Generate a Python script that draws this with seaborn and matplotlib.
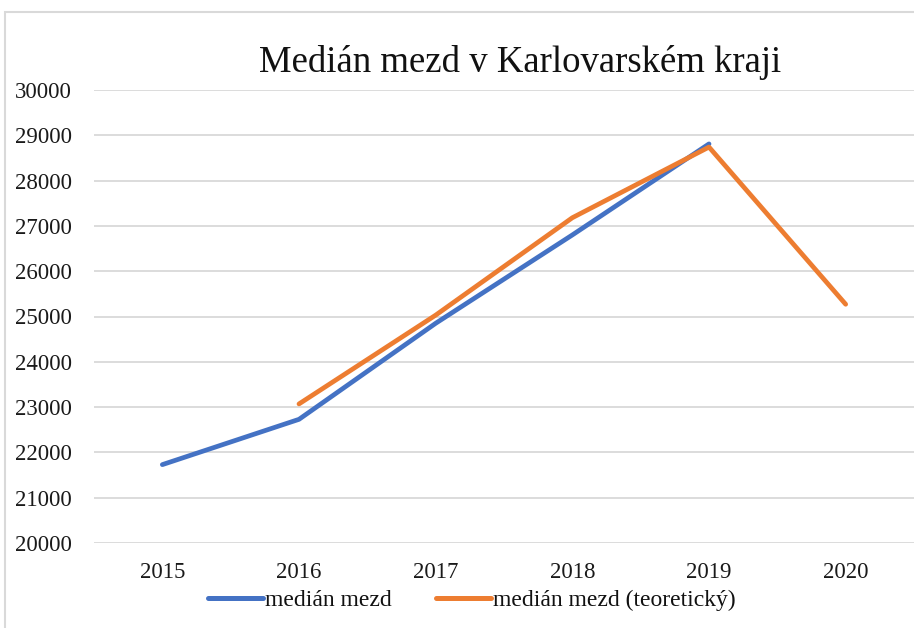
import numpy as np
import pandas as pd
import matplotlib
matplotlib.use("Agg")
import matplotlib.pyplot as plt
import seaborn as sns
from matplotlib.patches import Rectangle
from matplotlib.lines import Line2D

years = ["2015", "2016", "2017", "2018", "2019", "2020"]
median = [21730, 22730, 24850, 26800, 28810, np.nan]
median_theor = [np.nan, 23070, 25030, 27180, 28740, 25270]
series_names = ["medián mezd", "medián mezd (teoretický)"]
colors = ["#4472C4", "#ED7D31"]
title = "Medián mezd v Karlovarském kraji"

df = pd.DataFrame({
    "rok": years * 2,
    "hodnota": median + median_theor,
    "serie": [series_names[0]] * len(years) + [series_names[1]] * len(years),
})
df["pos"] = list(range(len(years))) * 2
df = df.dropna()

sns.set_theme(style="white")
plt.rcParams["font.family"] = ["Liberation Serif", "DejaVu Serif"]

fig = plt.figure(figsize=(9.14, 6.28), dpi=100)
ax = fig.add_axes([94 / 914, 1 - 543 / 628, (914 - 94) / 914, (543 - 90) / 628])

sns.lineplot(data=df, x="pos", y="hodnota", hue="serie", hue_order=series_names,
             palette=colors, linewidth=3.4, ax=ax, legend=False,
             solid_capstyle="round", solid_joinstyle="round")

ax.set_xlim(-0.5, len(years) - 0.5)
ax.set_ylim(20000, 30000)
ax.set_xticks(range(len(years)))
ax.set_xticklabels(years)
ax.set_yticks(np.arange(20000, 30001, 1000))
ax.set_yticklabels([str(v) for v in range(20000, 30001, 1000)])
ax.set_xlabel("")
ax.set_ylabel("")
ax.grid(axis="y", color="#d9d9d9", linewidth=1.3)
ax.set_axisbelow(True)
for s in ax.spines.values():
    s.set_visible(False)
ax.tick_params(axis="both", length=0, labelsize=16.5, colors="#1a1a1a")
ax.tick_params(axis="y", pad=16)
ax.tick_params(axis="x", pad=14)

fig.text(520 / 914, 1 - 63 / 628, title, ha="center", va="center",
         fontsize=26.5, color="#111111")

handles = [Line2D([0], [0], color=c, linewidth=3.6, solid_capstyle="round") for c in colors]
fig.legend(handles, series_names, loc="center", bbox_to_anchor=(472 / 914, 1 - 600 / 628),
           ncol=2, frameon=False, fontsize=17, handlelength=2.3, handletextpad=0.1,
           columnspacing=1.9, labelcolor="#111111")

fig.patches.append(Rectangle((5 / 914, -0.1), 1.2, (628 - 12) / 628 + 0.1,
                             transform=fig.transFigure, fill=False,
                             edgecolor="#d9d9d9", linewidth=1.5))

fig.savefig("out.png", dpi=100)
